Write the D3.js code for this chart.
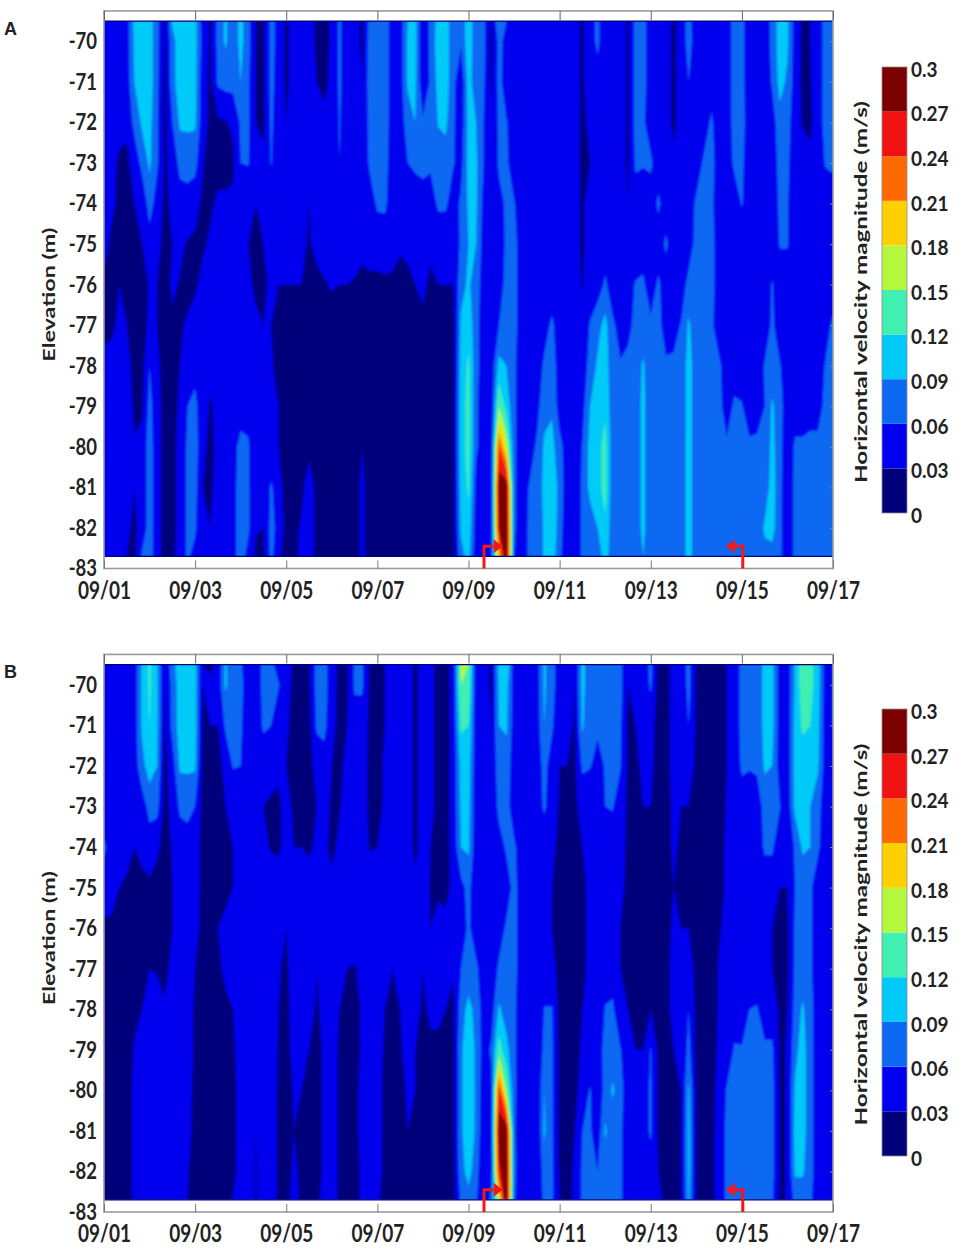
<!DOCTYPE html>
<html><head><meta charset="utf-8">
<script src="https://cdn.jsdelivr.net/npm/d3@7"></script>
<style>html,body{margin:0;padding:0;background:#fff}svg{display:block}
text{font-family:Lato,"Open Sans",sans-serif;font-weight:700;fill:#222}</style>
</head><body><svg id="c" width="963" height="1259"></svg>
<script>
// Elevation (m) of each value in a column profile, top to bottom
const elevations=[-69.5,-70,-71,-72,-73,-74,-75,-76,-77,-78,-79,-80,-81,-82,-82.7];
const dayLabels=["09/01","09/03","09/05","09/07","09/09","09/11","09/13","09/15","09/17"];
const dayTicks=[0,2,4,6,8,10,12,14,16];
const elevationTicks=[-70,-71,-72,-73,-74,-75,-76,-77,-78,-79,-80,-81,-82,-83];
const colorLevels=[0,0.03,0.06,0.09,0.12,0.15,0.18,0.21,0.24,0.27,0.3];
const colorLabels=["0","0.03","0.06","0.09","0.12","0.15","0.18","0.21","0.24","0.27","0.3"];
const bandColors=["#00007a","#0000ee","#0a68f2","#00cbf8","#40efb2","#b4f83e","#ffd000","#ff6a00","#f01212","#7d0000"];
const arrowLeftDay=[8.34,8.34,8.55,8.75], arrowRightDay=[14.02,14.02,13.85,13.65];
const arrowElev=[-83,-82.45,-82.45,-82.45];
const hoursPerColumn=4;
// Horizontal velocity (cm/s), one profile per 4-hour column, panel A
const columnsA=[
[4,4,4,4,4,5,4,2.5,2.5,3.5,4,4,4,4,4],
[4,4,4,4,4,3.5,2.5,2,2.5,4,4.5,4.5,4.5,4.5,4.5],
[4,4,4,4,2.5,2.5,2.5,3,3.5,4.5,4.5,4.5,4.5,4.5,4.5],
[4.5,4.5,4.5,3.5,2.5,2.5,2,2,3,4,4.5,4.5,4.5,3.5,3],
[10,9.5,9,7,4,3,2.5,2,2,2,2.5,3.2,3,2.5,2.5],
[10.5,10.5,10,9.5,7,3.5,3,2,2,2,2.5,4,4,4,6.5],
[10.5,10.5,10.5,10,9.5,7.5,4.5,3.2,3.5,6,7,7.5,7.5,7.5,7.5],
[7,7,7,6.5,6.5,4.5,3.5,3,3,3.5,4,4,4,4,4],
[2.5,2.5,2,2,2.5,2.5,2.5,2,2,2,2,2,2,2,2],
[9.5,8,8,6,4,3.5,3,3.5,2.5,2,2,2,2,2,2.5],
[10.5,10.5,10.5,9.5,7,4.5,3.5,2.8,2.8,3,3.5,4,4,4,4],
[10.5,10.5,10.5,9.5,7.5,4.5,2.8,2.5,3.2,4.5,6,6.5,6.5,6.5,6.5],
[10,10,10,9.5,7,4,2.5,2.5,4.5,5,6.8,7.5,7,6.5,5],
[4.5,5,4,4,3.2,2.5,2.5,4,4.5,4.5,4,3.5,3,3,3],
[2.5,2.5,2.5,2.5,2,2.5,3.5,4.5,4.5,3.5,2.8,2.5,2.5,3,3.5],
[7,7,6.5,2.5,2,3.5,4.5,4.5,4.5,4.5,3.5,3.5,4,4,4],
[9.5,9.5,7,2.8,2,3.5,4.5,6,4.5,4.5,4.5,4.5,4.5,4.5,4.5],
[7,7,7,3.5,2.5,3.5,4,5,4.5,4.5,4.5,5,5,5,5],
[10,10,9,6.5,6,3.5,3.5,4.5,4.5,4.5,4.5,7,7.5,7.5,7.5],
[7,7,6.5,6.5,6.2,3.5,3,3.5,4.5,4.5,4.5,6.5,6.5,6.5,5],
[3,3,2.8,3,3,3,2.5,2.5,3.5,3.5,3,3,3.2,3.2,2.5],
[2.5,2.5,2.5,2.5,3.5,3.5,3,2.5,3,3.5,3,3,3,3,2.5],
[7,7,7,6.5,6.2,4.5,4,3.5,3,3.2,3.5,3.5,6.5,7,7],
[5,5,4.5,4.5,4,4.5,4,3,2.5,2.5,3,3,4,5,3.5],
[2.5,2.5,2.5,3,4.5,6,4.5,3,2,2,2,2,2,2,2],
[4,4,4,4,4.5,4,4,3,2,2,2,2,2,2,2],
[4.5,4.5,4.5,4.5,4.5,4.5,3.5,3,2,2,2,2,2,3.5,4],
[4.5,4.5,4.5,4.5,4.5,3,2.8,2.5,2,2,2,2,5,5,5],
[2.5,2.5,3,3.5,4.5,4.5,3.5,2.5,2,2,2,2,2,2,2],
[2,2,2.5,3.5,4.5,4.5,4,2.8,2,2,2,2,2,2,2],
[3.5,3.5,3.5,4,4.5,4.5,4.5,3.2,2,2,2,2,2,2,2],
[6.5,6.5,6.5,6.2,6,5,4.5,3,2,2,2,2,2,2,2],
[4.5,4.5,4.5,4.5,4.5,4.5,4.5,3,2,2,2,2,2,2,2],
[4,4,4.5,4.5,4.5,4.5,4,2.8,2,2,2,2,2,2,2],
[2.5,2.5,3,3.5,4,4,3.5,2.5,2,2,2,3,3.5,3.5,3.5],
[7,7.5,7.5,7,6.5,4.5,4,2.5,2,2,2,2,2,2,2],
[7.5,7.5,7.5,7.5,7,6.5,4,2.5,2,2,2,2,2,2,2],
[7.5,7.5,7.5,7.5,7,6.5,4.5,2.5,2,2,2,2,2,2,2],
[4.5,4.5,4.5,4.5,4.5,4.5,4,2.5,2,2,2,2,2,2,2],
[4.5,4.5,4.5,4.5,4.5,4.5,3.2,2.5,2,2,2,2,2,2,2],
[9,9.5,9.5,7.5,6,4.5,3.5,2.5,2,2,2,2,2,2,2],
[10,10,9.5,9,6.5,4.5,3.5,3,2,2,2,2,2,2,2],
[3,3,3.5,6.5,7,4.5,4,3.5,2.5,2,2,2,2,2,2],
[7,7,6.5,6.2,6.5,4.5,3.5,2.5,2,2,2,2,2,2,2],
[10,10.5,10,9.2,7.5,6.5,4,3,2,2,2,2,2,2,2],
[10.5,10.5,10.5,9.7,7.5,6.5,4,3,2,2,2,2,2,2,2],
[7,7,7,6.5,6.2,4.5,4,3,2,2,2,2,2,2,2],
[6.5,6.5,3.5,4,5,6.5,6.5,8,9.5,10,10.5,10.5,10,9.5,8],
[11,11,10.5,10,10,9.5,9,9.5,11,12.5,13,13,12.5,11,10],
[7,7,7,9,9.5,9.5,9,7.5,7,7,6.5,6.5,5,4.5,4],
[7,7,6.5,6,6,5,4.5,4.5,4.5,4.5,4.5,4.5,4.5,4,4],
[2.5,2,2.5,3.5,3,3.5,4,4,4,4,4,4.5,4.5,5,6],
[9,7,7,6.5,6.5,5,4.5,4.5,6,10,15,24,29,27,20],
[6,5,4.5,6.2,6.5,6.5,6.5,7,7,9,11,17,29,30,30],
[4.5,4.5,4.5,4.5,4.5,6.2,7,7,7,6.5,6.5,6.5,6.5,6.5,6],
[4.5,4.5,4.5,4.5,4.5,4.5,4.5,4.5,4.5,4.5,4.5,4.5,4.5,4.5,4.5],
[4.5,4.5,4.5,4.5,4.5,4.5,4.5,4.5,4.5,4.5,4.5,4.5,6.2,6.5,6.5],
[3,3,3,3.5,4.5,4.5,4.5,4.5,4.5,4.5,5,6.5,7,7,7],
[5,6,5,3,3,4.5,4.5,4.5,5,6.5,8,9.5,10,9.5,9.5],
[4.5,4.5,4.5,4.5,4.5,4.5,4.5,4.5,6.5,7.5,8.5,10,12,12,11],
[4.5,4.5,4.5,4.5,4.5,4.5,4.5,4.5,4.5,4.5,4.5,7,7.5,7,6.5],
[4.5,4.5,4.5,4.5,4.5,4.5,4.5,4.5,4.5,4.5,4.5,4.5,4.5,4.5,4.5],
[4,4,4,4,4,4,4,4,4,4,4,4,4,4,4],
[2.5,2.5,2.5,2.5,2.5,2.5,2.5,2.8,4,4.5,5,6.2,6.5,6.5,6.5],
[5,5,5,3.5,3,4.5,4.5,4.5,6.2,7,9,10,10,7,6.5],
[6.5,6.5,5,4.5,4.5,4.5,4.5,4.5,8,9.5,10.5,11,11,9,7],
[4.5,4.5,4.5,4.5,4.5,4.5,4.5,6.5,10,10.5,11.5,13,13,11.5,10.5],
[4.5,4.5,4.5,4.5,4.5,4.5,4.5,4.5,6.5,7,7,7,7,7,7],
[4.5,4.5,4.5,4.5,4.5,4.5,4.5,4.5,5,6.2,6.5,6.5,6.5,6.5,6.5],
[2.5,2.5,2.5,2.5,2.5,3,4.5,5,5.5,6.5,6.5,6.5,6.5,6.5,6.5],
[7,7,7,7,6.5,4.5,4.5,6.2,6.5,7,7,7,7,7,7],
[7,7,7,6.5,6.2,4.5,4.5,6.5,7,9.5,10,10,10,10,9],
[4.5,4.5,4.5,4.5,6.5,4.5,4.5,4.5,6.5,6.5,6.5,6.5,6.5,6.5,6.5],
[4.5,4.5,4.5,4.5,4.5,6.5,4.5,6.5,7,7,7,7,7,7,7],
[4,4,4,4,4,4.5,6.5,4.5,4.5,6.5,6.5,6.5,6.5,6.5,6.5],
[2.5,2.5,2.5,2.5,3.5,4.5,4.5,4.5,5,6.5,6.5,6.5,6.5,6.5,6.5],
[4,4,4,4,3.5,3,4.5,4.5,6.2,6.5,6.5,7,7,7,7],
[7.5,7.5,6,5,5,4.5,4.5,7,9.5,10.5,10.5,10.5,10.5,10.5,10.5],
[3.5,4,4,4,4.5,6.5,7,7,7,7,7,7,7,7,7],
[3,3,3.5,4.5,6.5,7,7,7,7,7,7,7,7,7,7],
[4.5,4.5,4.5,6.5,7,6.5,7,7,6.5,7,7,7,7,7,7],
[4,4,4,4,4.5,4.5,4.5,4.5,4.5,6.5,7,7,6.5,6.5,6.5],
[4.5,4.5,4.5,4.5,4.5,4.5,4.5,4.5,4.5,4.5,4.5,6.5,7,7,7],
[7,7,7,7,6.5,4.5,4.5,4.5,4.5,4.5,6.5,7,7,7,7],
[7,7,7,7,6.5,6.2,4.5,4.5,4.5,4.5,6.2,7,7,7,7],
[4,4,4,4.5,4.5,4.5,4.5,4.5,4.5,4.5,4.5,6.5,7,7,7],
[4.5,4.5,4.5,4.5,4.5,4.5,4.5,4.5,4.5,4.5,5,6.5,7,7,7],
[4,4,3.5,3,4.5,4.5,4.5,4.5,4.5,6.2,6,6.5,7,9.5,8],
[7,7,6.5,4.5,4.5,4.5,4.5,6.2,6.5,7,9.5,10,10.5,10,8],
[10.5,10.5,10,8,7,6.5,6.2,4.5,4.5,6.2,7,7,7,7,7],
[9.5,9.5,8.5,7,6.5,6.2,6.2,4.5,4.5,4.5,4.5,4,3,3,3],
[4.5,4.5,4.5,4.5,4.5,4.5,4.5,4.5,4.5,4.5,4.5,6.5,7,7,7],
[2.5,2.5,2.5,2.8,4.5,4.5,4.5,4.5,4.5,4.5,4.5,6.5,7,7,7],
[3,3,2.8,2.5,3.5,4.5,4.5,4.5,4.5,4.5,4.5,7,9,9,7],
[4.5,4.5,4.5,4.5,4.5,4.5,4.5,4.5,4.5,4.5,4.5,7,7,7,7],
[7,7,7,7,6.2,4.5,4.5,4.5,5,6.2,7,7,7,7,7],
[7,7,7,7,6.5,4.5,4.5,4.5,6.5,7,7,7,7,7,7]
];
// Panel B
const columnsB=[
[4,4,4,4,4,6.5,4.5,2.5,2,2,2,2,2,2,2],
[4.5,6,4.5,4.5,4.5,4.5,4,2.5,2,2,2,2,2,2,2],
[4.5,4.5,4.5,4.5,4.5,4.5,3,2,2,2,2,2,2,2,2],
[4.5,6,4.5,4.5,4.5,4,2.5,2,2,2,2,2,2,2,2],
[4.5,4.5,4.5,4.5,4,3,2.5,2,2,2.5,3.2,3.5,3.5,3.5,3.5],
[9.5,9.5,9.5,8,4.5,3.5,2.5,2,2.5,3,4.5,4.5,4.5,4.5,4.5],
[12.5,12.5,12,10.5,7,4.5,2.5,2,3,4.5,4.5,4.5,4.5,4.5,4.5],
[9.5,9.5,9.5,9,7,3.5,2,2,2.8,4,4.5,4.5,4,3.2,3],
[3,3,2.5,2,2,2,2.5,2.5,2.5,3.2,3.5,3.5,3.5,3.5,3.5],
[8,7,7,4.5,4,3.2,3,3,3.5,4.5,4.5,4.5,4.5,4.5,4.5],
[10.5,10.5,10.5,9.5,6.5,4.5,4.5,4.5,4.5,4.5,4.5,4.5,4.5,4.5,4.5],
[12,12,11,9.5,7,4.5,4.5,4.5,4.5,4.5,4.5,4.5,4,3.2,3],
[10,10,10,9.5,6,4.5,4.5,4,3,2.5,2.5,2,2,2,2],
[3,3,2.5,2,2,2,2,2,2,2,2,2,2,2,2],
[2.5,3.5,3,2,2,2,2,2,2,2,2,2,2,2,2],
[3.5,4,3,2,2,2,2.5,3,2.5,2,2,2,2,2,2],
[9.5,9.5,6.5,4,3,2.5,2.5,3.5,3.5,2.5,2,2,2,2,2],
[6.5,7,6.5,6.2,3.5,3,3,4,4,3,2.5,2,2,2,3.2],
[6.5,7,6.5,6,4,3.5,3.5,4.5,4.5,4.5,4.5,4.5,4.5,4.5,4.5],
[4,4,4,3.5,3,3,3.5,4.5,4.5,4.5,4.5,4.5,4.5,4.5,4.5],
[4,4,4,3.5,3,3.5,4.5,4.5,4.5,4,3.5,3.2,3,2.8,2.8],
[7,7,6.5,4,3,3.5,4.5,4.5,4.5,4.5,4.5,4.5,4.5,4.5,4.5],
[7,7,6,3.5,2.8,2.8,4.5,4.5,4.5,4.5,4.5,4.5,4.5,4.5,4.5],
[4.5,6.2,4,3.5,2.5,2.5,4.5,4.5,3.2,3,2.8,2.5,2.5,2.5,2.5],
[4,4,3.5,3,4,4,4.5,3,2.5,2,2,2,2,2,2],
[2.5,2.5,2,2,2.5,3,4.5,4.5,4.5,4.5,4,3.2,3,3.5,4],
[2,2,2,2,2,3,4.5,4.5,4.5,4.5,4,3,2.5,2.5,2.5],
[2.5,2.5,2,2,2,2.5,4.5,4.5,4.5,4.5,3,2.5,2,2,2],
[7,7,6.5,4,3,3.5,4.5,3.5,3,2.5,2,2,2,2,2],
[7.5,7.5,7,4.5,3.5,3.5,3,3.5,4,4,3.5,3.5,3.5,3.5,4.5],
[4,4,3.5,3,2.8,2.5,3.5,4.5,4.5,4.5,4.5,4.5,4.5,4.5,4.5],
[2.5,2.5,2.5,2.5,2.8,3.5,4.5,4.5,4,3,2.5,2.5,2.5,2.5,2.5],
[2.5,2.5,3,3.5,4,4.5,4.5,4,3,2.5,2,2,2,2,2],
[6.5,6.5,4.5,4,4,4.5,4.5,4.5,2.8,2.5,2.5,2.5,2.5,2,2],
[6.5,6.5,4.5,4,4,4.5,4.5,4.5,3.5,3.2,3.2,3.5,3.5,3.5,3.5],
[2.5,2.5,2.5,2.5,2.5,2.8,4.5,4.5,4.5,4.5,4.5,4.5,4.5,4.5,4.5],
[2,2,2,2,2,3,4.5,4.5,4.5,4.5,4.5,4.5,4.5,4.5,3.5],
[3,3,3,3.5,3.5,4,4.5,4.5,4.5,3,2.5,2,2,2,2],
[4.5,4.5,4.5,4.5,4.5,4.5,4.5,4.5,3,2,2,2,2,2,2],
[4.5,6,4.5,4.5,4.5,4.5,4.5,4.5,4,3,2.5,2,2,2,2],
[4,4,4,4,4,4,4,4.5,4.5,4.5,4.5,3.5,3,2.8,2],
[2.5,2.5,2.5,2.5,2.5,2.5,3.5,4.5,4.5,4,3,3,2.5,2,2],
[4,4,4,4,4,4,4.5,4.5,3,2.5,2,2,2,2,2],
[4,4,4,4,4,3,2.8,3,3.5,3.5,2.5,2,2,2,2],
[2,2,2,2,2,2,2.5,4,4,3.5,2.5,2,2,2,2],
[2,2,2,2,2,2,2.5,3.5,4,3,2.5,2,2,2,2],
[4,4,4,4,4,4,3.5,4,3.2,2.5,2,2,2,2,2],
[15.5,15,12.5,10,9.5,9,5,4.5,6,7.5,8.5,8.5,8.5,8,6.5],
[15,14,12,10.5,10,9.5,7,6.5,7,10,11,11,11,10,8],
[4,4,4,4,4,4,3.5,4.5,6.5,8,8.5,8.5,8.5,7.5,6.5],
[4,4,4,4,4,4,4,4.5,4.5,4.5,4.5,4,3.5,3,3],
[2.5,2.5,3,3,3,3,4,4,4,4.5,6.5,5,5,5,7],
[10,9.5,9,8,7,4.5,4.5,4.5,6.5,9.5,13.5,25,29,26,17],
[12,10,9.5,7.5,7,6.5,4.5,6.5,7,7.5,10,15,29,30,30],
[4.5,4.5,4.5,4.5,4.5,6.5,7,7,7,6.5,6.5,6.5,6.5,7,6.5],
[4.5,4.5,4.5,4.5,4.5,4.5,4.5,4.5,4.5,4.5,4.5,4.5,4,3.5,3.5],
[4.5,4.5,4.5,4.5,4.5,4.5,4,3.5,3.5,3.5,3.5,3.5,3.5,3.5,3.5],
[4.5,4.5,4.5,4.5,4.5,4.5,4,3.5,3.5,3.2,3.2,3.2,3.2,3.2,3.2],
[9.5,9.5,9,7,6.5,4,4,3.5,3.5,6.2,7,9,9.5,7.5,7],
[7,7,6.5,4.5,4,3.5,3,3,3.5,6.2,6.5,6.5,6.5,6.5,6.5],
[4.5,4.5,3.5,3,2.8,2.5,2.5,2.5,2.5,2,2,2,2,2.5,3],
[4,4,3.5,3,2.5,2.5,2.5,2.5,2.5,2,2,2,2,2,2],
[3,3,2.8,2.5,2.5,2.5,2.5,2.5,2.5,2,2,2,3,3.5,3.5],
[10,10,9.5,6.5,4,3,2.5,2.5,2.5,3,3.5,4.5,6,6.5,6.5],
[7,7,6.5,6.2,3.5,3.5,3.5,3.5,3.5,3.5,4.5,6.2,6.5,6.5,6.5],
[8,6.5,6.5,5,4.5,4,3,3,3,3.5,4.5,4,4,6,6.5],
[7,7,6.5,6.2,6,3.5,3,3.5,4.5,6.2,7,7,9.5,7,6.5],
[7,7,7,7,6.2,4.5,4,4,4.5,6.5,7,9.5,7,6.5,6.5],
[7,7,6.5,6.2,4.5,4,3.5,3,3,3.5,6.2,7,6.5,6.5,6.5],
[3,3,2.5,2.5,2.5,2.5,2.5,2.5,2.5,3,3.5,4.5,4.5,4.5,4.5],
[3,3,3,2.5,2.5,2,2,2,2,2.5,3,4,4.5,4.5,4.5],
[4,4,4,3.5,3,2.5,2.5,2.5,2.5,2.5,3,4.5,4.5,4.5,4.5],
[7,6.5,4,3.5,3,2.5,2.5,2.5,2.5,3,6.2,6.5,6.5,4.5,4],
[2,2,2,2,2,2,2,2,2,2,2.5,2.5,2.5,3,3.5],
[2,2,2,2,2,2,2,2,2,2,2,2,2,2.5,2.5],
[4,4,4,4,3.5,3.5,3,3.5,4,4,3,2.5,2.5,2.5,2.5],
[4,4,4,4,3,2.5,2.5,3,4.5,4.5,3.5,3,3,3,3],
[7,7,6,4,3,2.5,2.5,3,4.5,6,7,9.5,10,10,9.5],
[2.5,2.5,2.5,2.5,2,2,2,2,2,2,2,2.5,2.5,2.5,2.5],
[2,2,2,2,2,2,2,2,2,2,2,2,2,2,2],
[2,2,2,2,2,2,2,2,2,2,2,2,2,2,2],
[2,2,2,2,2,2,2,2.8,3.2,3.2,3.5,4,4.5,4.5,4.5],
[3,3,3,3,3.2,3.5,3.5,3.5,3.5,3.5,4.5,6.2,6.5,6.5,6.5],
[4,4,4,4,4,4,4,4.5,4.5,5,6.2,7,7,7,7],
[7,7,7,6.5,4.5,6,4.5,4,4.5,4.5,6.2,7,7,7,7],
[7,7,6.5,6.2,4.5,4.5,4,3.5,4.5,6,7,7,7,7,7],
[7,7,7,6.5,4.5,4,3.5,3,4.5,6.2,7,7,7,7,7],
[10,10,10,9.5,7,6.5,4,3,4.5,4.5,6.5,7,7,7,6.5],
[10,10,10,9,7,6.5,4,3,3,4.5,6.5,7,7,7,6.5],
[4.5,4.5,4.5,4.5,6.2,4,3,2.5,2.5,2.5,2.5,2.5,2.5,2.5,2.5],
[4,4,4,4,4,3.5,3,2.5,2.5,3,3.2,3.2,3.2,3.2,3.2],
[9.5,9.5,10,10,9.8,6.5,6,6.5,6.5,7,8,9.5,10,9.5,7],
[14,14,12.5,10.5,10,9.5,7,7,7,9.5,10.5,10.5,10.5,9.5,7],
[13,13,12,10.5,9,9,6.5,6.5,6.5,7,7,7,7,7,6.5],
[10.5,10.5,10,9.5,7,6.5,4.5,4.5,4.5,4.5,4.5,4.5,4.5,4.5,4.5],
[4.5,4.5,4.5,4.5,4.5,4.5,4.5,4.5,4.5,4.5,4.5,4.5,4.5,4.5,4.5],
[6,6,6,4.5,4.5,4.5,4.5,4.5,4.5,4.5,4.5,4.5,4.5,4.5,4.5]
];

const svg=d3.select("#c");
const defs=svg.append("defs");
defs.append("filter").attr("id","soft").attr("x","-2%").attr("y","-2%").attr("width","104%").attr("height","104%")
  .append("feGaussianBlur").attr("stdDeviation",0.9);

function drawPanel(id,letter,columns,bottomY,barTop,barBottom){
  const left=104,right=833;
  const x=d3.scaleLinear().domain([0,16]).range([left,right]);
  const y=d3.scaleLinear().domain([-83,-69.25]).range([bottomY,bottomY-13.75*40.55]);
  const n=columns.length,m=elevations.length;
  const values=new Array(n*m);
  columns.forEach((col,i)=>elevations.forEach((_,j)=>{values[j*n+i]=col[Math.min(j,col.length-1)]}));
  const rowToElev=d3.scaleLinear().domain(d3.range(m)).range(elevations);
  const thresholds=colorLevels.slice(0,-1).map(v=>v*100);
  const contours=d3.contours().size([n,m]).thresholds(thresholds)(values);
  const path=d3.geoPath(d3.geoTransform({point(px,py){
    this.stream.point(x((px-0.5)*hoursPerColumn/24),y(rowToElev(py-0.5)));
  }}));
  const dataTop=y(-69.5),dataBottom=y(-82.7);
  defs.append("clipPath").attr("id","clip"+id).append("rect")
    .attr("x",left).attr("y",dataTop).attr("width",right-left).attr("height",dataBottom-dataTop);
  const g=svg.append("g").attr("clip-path",`url(#clip${id})`).append("g").attr("filter","url(#soft)");
  g.append("rect").attr("x",left-4).attr("y",dataTop-4).attr("width",right-left+8).attr("height",dataBottom-dataTop+8).attr("fill",bandColors[0]);
  g.selectAll("path").data(contours.slice(1)).join("path")
    .attr("d",path).attr("fill",(d,i)=>bandColors[i+1]);
  [dataTop,dataBottom].forEach(v=>svg.append("line").attr("x1",left).attr("x2",right).attr("y1",v).attr("y2",v)
    .attr("stroke",bandColors[0]).attr("stroke-width",1.2));

  // frame and axes
  svg.append("rect").attr("x",left).attr("y",y(-69.25)).attr("width",right-left).attr("height",bottomY-y(-69.25))
    .attr("fill","none").attr("stroke","#9a9a9a").attr("stroke-width",1.6);
  const bottom=svg.append("g").attr("transform",`translate(0,${bottomY})`)
    .call(d3.axisBottom(x).tickValues(dayTicks).tickFormat((d,i)=>dayLabels[i]).tickSizeInner(-8).tickSizeOuter(0));
  bottom.select(".domain").remove();
  bottom.selectAll("line").attr("stroke","#777");
  bottom.selectAll("text").attr("font-size",19).attr("transform","scale(1,1.28)").attr("y",23.5).attr("dy",0).style("font-family","Lato");
  const top=svg.append("g").attr("transform",`translate(0,${y(-69.25)})`)
    .call(d3.axisTop(x).tickValues(dayTicks).tickFormat("").tickSizeInner(-9).tickSizeOuter(0));
  top.select(".domain").remove(); top.selectAll("line").attr("stroke","#666");
  const leftAxis=svg.append("g").attr("transform",`translate(${left},0)`)
    .call(d3.axisLeft(y).tickValues(elevationTicks).tickFormat(d=>"-"+Math.abs(d)).tickSizeInner(0).tickSizeOuter(0).tickPadding(7));
  leftAxis.select(".domain").remove();
  leftAxis.selectAll("text").attr("font-size",18.5).attr("transform","scale(1,1.25)").style("font-family","Lato");
  const rightAxis=svg.append("g").attr("transform",`translate(${right},0)`)
    .call(d3.axisRight(y).tickValues(elevationTicks.slice(0,-1)).tickFormat("").tickSizeInner(-3).tickSizeOuter(0));
  rightAxis.select(".domain").remove(); rightAxis.selectAll("line").attr("stroke","#888");
  svg.append("text").attr("transform",`translate(55,${y(-76.1)+6}) rotate(-90)`).attr("text-anchor","middle")
    .attr("font-size",17).attr("textLength",134).attr("lengthAdjust","spacingAndGlyphs").text("Elevation (m)");
  svg.append("text").attr("x",4).attr("y",bottomY-534).attr("font-size",18).style("font-family","Liberation Sans").text(letter);

  // red arrows
  const line=d3.line().x(d=>x(d[0])).y(d=>y(d[1]));
  [arrowLeftDay,arrowRightDay].forEach(days=>{
    const pts=days.map((d,i)=>[d,arrowElev[i]]);
    svg.append("path").attr("d",line(pts.slice(0,3))).attr("fill","none").attr("stroke","#f21818").attr("stroke-width",3);
    const tip=x(days[3]),base=x(days[2]),cy=y(arrowElev[3]);
    svg.append("path").attr("fill","#f21818").attr("d",`M${tip},${cy}L${base},${cy-7}L${base},${cy+7}Z`);
  });

  // colour bar
  const cb=d3.scaleLinear().domain([0,0.3]).range([barBottom,barTop]);
  const barX=882,barW=25;
  svg.append("g").selectAll("rect").data(bandColors).join("rect")
    .attr("x",barX).attr("width",barW)
    .attr("y",(d,i)=>cb(colorLevels[i+1])).attr("height",(d,i)=>cb(colorLevels[i])-cb(colorLevels[i+1]))
    .attr("fill",d=>d);
  svg.append("rect").attr("x",barX).attr("y",barTop).attr("width",barW).attr("height",barBottom-barTop)
    .attr("fill","none").attr("stroke","#8a8a9a").attr("stroke-width",0.8);
  const barAxis=svg.append("g").attr("transform",`translate(${barX+barW},2.5)`)
    .call(d3.axisRight(cb).tickValues(colorLevels).tickFormat((d,i)=>colorLabels[i]).tickSize(0).tickPadding(4));
  barAxis.select(".domain").remove();
  barAxis.selectAll("text").attr("font-size",19).attr("transform","scale(1,1.12)").style("font-family","Lato");
  svg.append("text").attr("transform",`translate(867,${(barTop+barBottom)/2+2}) rotate(-90)`).attr("text-anchor","middle")
    .attr("font-size",17.5).attr("textLength",382).attr("lengthAdjust","spacingAndGlyphs").text("Horizontal velocity magnitude (m/s)");
}
drawPanel("A","A",columnsA,568.5,67,513);
drawPanel("B","B",columnsB,1212,709,1156);
</script></body></html>
